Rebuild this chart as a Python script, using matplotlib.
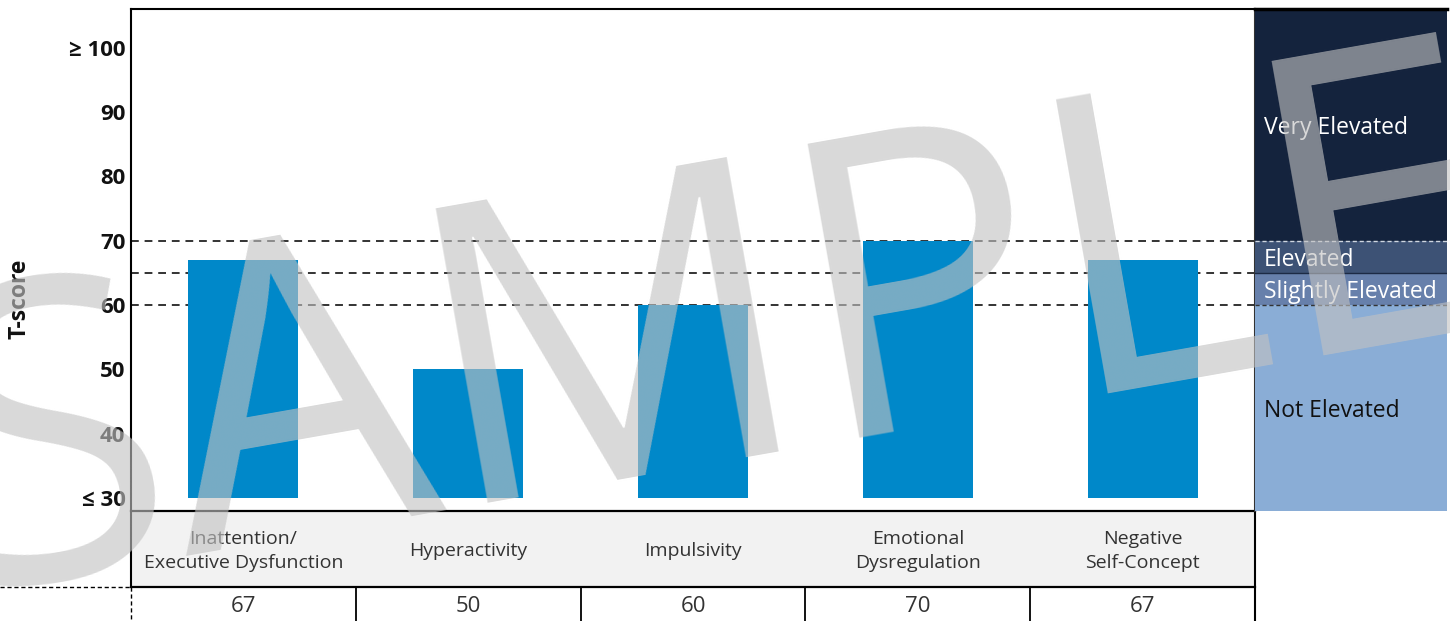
import matplotlib
matplotlib.use('Agg')
import matplotlib.pyplot as plt
from matplotlib.transforms import blended_transform_factory

# ---------------- data ----------------
categories = ["Inattention/\nExecutive Dysfunction", "Hyperactivity", "Impulsivity",
              "Emotional\nDysregulation", "Negative\nSelf-Concept"]
scores = [67, 50, 60, 70, 67]
score_labels = ["67", "50", "60", "70", "67"]
ytick_values = [30, 40, 50, 60, 70, 80, 90, 100]
ytick_labels = ["\u2264 30", "40", "50", "60", "70", "80", "90", "\u2265 100"]
cutoffs = [60, 65, 70]
band_lower = [28, 60, 65, 70]
band_upper = [60, 65, 70, 106]
band_labels = ["Not Elevated", "Slightly Elevated", "Elevated", "Very Elevated"]
band_colors = ["#8AADD6", "#6780AB", "#3D5275", "#14233D"]
band_text_colors = ["#111111", "white", "white", "white"]
bar_base = 30

FONT = ["Open Sans", "DejaVu Sans"]
plt.rcParams['font.family'] = FONT

W, H = 1450, 621
fig = plt.figure(figsize=(W / 100, H / 100), dpi=100)


def rect(x0, y0, x1, y1):
    return [x0 / W, 1 - y1 / H, (x1 - x0) / W, (y1 - y0) / H]


# full-figure pixel axes for table lines
axt = fig.add_axes([0, 0, 1, 1], zorder=0)
axt.set_xlim(0, W)
axt.set_ylim(H, 0)
axt.axis('off')

# main plot
ax = fig.add_axes(rect(131, 9, 1255, 511), zorder=1)
ax.set_xlim(-0.5, len(categories) - 0.5)
ax.set_ylim(28, 106)
ax.patch.set_alpha(0)
ax.bar(range(len(scores)), [s - bar_base for s in scores], bottom=bar_base,
       width=0.49, color="#0088C9", zorder=2)
for c in cutoffs:
    ax.axhline(c, color="#333333", lw=1.4, ls=(0, (4, 3)), zorder=1)
ax.set_yticks(ytick_values)
ax.set_yticklabels(ytick_labels, fontsize=16, fontweight='bold', color='#111111')
ax.tick_params(axis='y', length=0, pad=4)
ax.set_xticks([])
for s in ['left', 'top', 'right']:
    ax.spines[s].set_color('black')
    ax.spines[s].set_linewidth(1.5)
ax.spines['bottom'].set_visible(False)
ax.spines['right'].set_color('#333333')
ax.set_ylabel("T-score", fontsize=16.5, fontweight='bold', color='#111111')
ax.yaxis.set_label_coords((32 - 131) / 1124, (511 - 299) / 502)

# band axes
axb = fig.add_axes(rect(1255, 9, 1447, 511), zorder=1)
axb.set_xlim(0, 1)
axb.set_ylim(28, 106)
axb.axis('off')
for lo, hi, lab, col, tc in zip(band_lower, band_upper, band_labels, band_colors, band_text_colors):
    axb.axhspan(lo, hi, color=col, lw=0)
    axb.text(0.045, (lo + hi) / 2, lab, color=tc, fontsize=16.5, va='center_baseline', ha='left')
axb.axhline(70, color='#cfd6e0', lw=1.0, ls=(0, (3, 2)))
axb.axhline(65, color='#1c2a44', lw=1.0)
axb.axhline(60, color='#333333', lw=1.0, ls=(0, (3, 2)))
axb.plot([0, 1], [106, 106], color='black', lw=2.5, clip_on=False)

# table
tr = blended_transform_factory(ax.transData, axt.transData)
n = len(categories)
axt.fill_between([-0.5, n - 0.5], 511, 587, color="#F2F2F2", transform=tr, lw=0)
axt.plot([-0.5, n - 0.5], [511, 511], color='black', lw=1.6, transform=tr)
axt.plot([-0.5, n - 0.5], [587, 587], color='black', lw=1.6, transform=tr)
axt.plot([-0.5, -0.5], [511, 587], color='black', lw=1.5, transform=tr)
axt.plot([n - 0.5, n - 0.5], [511, H], color='black', lw=1.5, transform=tr)
for i in range(1, n):
    axt.plot([i - 0.5, i - 0.5], [587, H], color='black', lw=1.3, transform=tr)
axt.plot([0, 131], [587, 587], color='black', lw=1.0, ls=(0, (3, 2)))
axt.plot([-0.5, -0.5], [587, H], color='black', lw=1.0, ls=(0, (3, 2)), transform=tr)
for i, (cat, lab) in enumerate(zip(categories, score_labels)):
    axt.text(i, 551, cat, transform=tr, ha='center', va='center', fontsize=14,
             color='#333333', linespacing=1.42)
    axt.text(i, 607, lab, transform=tr, ha='center', va='center', fontsize=16,
             color='#333333')

# watermark
fig.text(-40 / W, 1 - 592 / H, "SAMPLE", fontsize=302, color='#C2C2C2', alpha=0.62,
         rotation=10, rotation_mode='anchor', ha='left', va='baseline', zorder=20)

fig.savefig("out.png", dpi=100)
